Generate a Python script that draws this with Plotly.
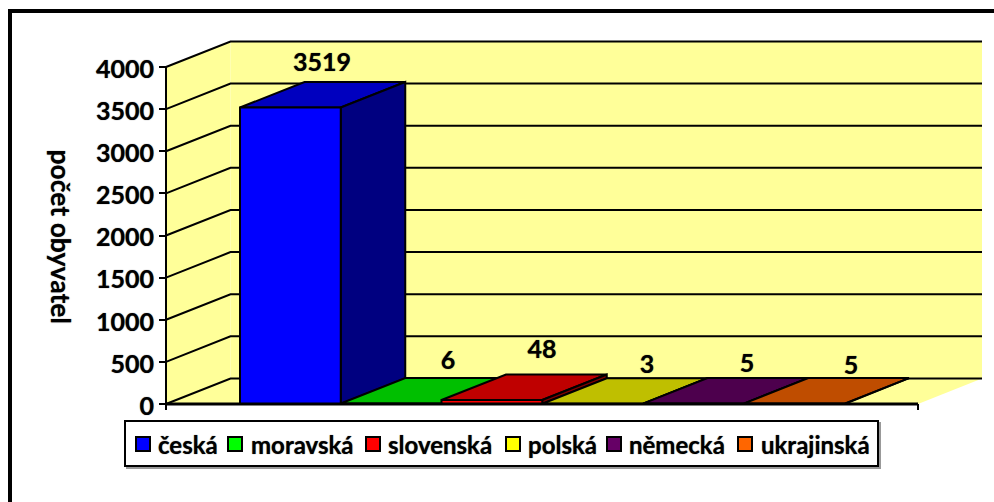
import plotly.graph_objects as go

CATEGORIES = ["česká", "moravská", "slovenská", "polská", "německá", "ukrajinská"]
VALUES = [3519, 6, 48, 3, 5, 5]
FRONT = ["#0000FF", "#00FF00", "#FF0000", "#FFFF00", "#660066", "#FF6600"]
TOP = ["#0000BF", "#00BF00", "#BF0000", "#BFBF00", "#4D004D", "#BF4D00"]
SIDE = ["#000080", "#008000", "#800000", "#808000", "#330033", "#803300"]
Y_TICKS = [0, 500, 1000, 1500, 2000, 2500, 3000, 3500, 4000]
LABEL_PX = [(322, 65), (448, 363), (542, 352), (647, 367), (747, 366), (851, 368)]
LEGEND_SWATCH_PX = [143, 235, 373, 513, 614, 745]
LEGEND_TEXT_PX = [156, 249, 386, 526, 627, 759]

W, H = 994, 502
X0_PX, CAT_PX = 240.0, 100.75
Y0_PX, UNIT_PX = 404.0, 337.0 / 4000
DX = 64.5 / CAT_PX
DY = 25.5 / UNIT_PX
AX_L = (166 - X0_PX) / CAT_PX
AX_R = (918 - X0_PX) / CAT_PX
FONT = "Lato"
LW = 2
HEAVY = "0 0 1px rgba(0,0,0,0.7)"


def ux(p):
    return (p - X0_PX) / CAT_PX


def uy(p):
    return (Y0_PX - p) / UNIT_PX


fig = go.Figure()


def poly(xs, ys, fill, line=True, name=None):
    fig.add_trace(go.Scatter(
        x=xs + xs[:1], y=ys + ys[:1], mode="lines", fill="toself", fillcolor=fill,
        line=dict(color="black" if line else fill, width=LW if line else 0),
        hoverinfo="skip", showlegend=False, name=name))


def line(xs, ys, width=LW):
    fig.add_trace(go.Scatter(x=xs, y=ys, mode="lines", line=dict(color="black", width=width),
                             hoverinfo="skip", showlegend=False))


ymax = Y_TICKS[-1]
wall_r = ux(982)
# walls and floor
poly([AX_L, AX_L + DX, AX_L + DX, AX_L], [0, DY, ymax + DY, ymax], "#FFFF99", False)
poly([AX_L + DX, wall_r, wall_r, AX_L + DX], [DY, DY, ymax + DY, ymax + DY], "#FFFF99", False)
poly([AX_L, AX_R, wall_r, AX_L + DX], [0, 0, DY, DY], "#FFFF99", False)
for t in Y_TICKS:
    line([AX_L, AX_L + DX, wall_r], [t, t + DY, t + DY])

# bars
for i, v in enumerate(VALUES):
    a, b = i, i + 1
    poly([a, b, b + DX, a + DX], [v, v, v + DY, v + DY], TOP[i])
    poly([b, b + DX, b + DX, b], [0, DY, v + DY, v], SIDE[i])
    poly([a, b, b, a], [0, 0, v, v], FRONT[i])

# axis lines
line([AX_L, AX_L], [0, ymax])
line([AX_L, AX_R], [0, 0], 3)
for xp in (AX_L, AX_R):
    line([xp, xp], [0, uy(410)])

# value labels
fig.add_trace(go.Scatter(
    x=[ux(p[0]) for p in LABEL_PX], y=[uy(p[1]) for p in LABEL_PX],
    mode="text", text=[str(v) for v in VALUES], textposition="middle center",
    textfont=dict(family=FONT, size=25, color="black", weight="bold", shadow=HEAVY),
    hoverinfo="skip", showlegend=False))

# legend swatches
for i, c in enumerate(CATEGORIES):
    fig.add_trace(go.Scatter(
        x=[ux(LEGEND_SWATCH_PX[i])], y=[uy(444)], mode="markers", name=c,
        marker=dict(symbol="square", size=14, color=FRONT[i], line=dict(color="black", width=2)),
        hoverinfo="skip", showlegend=False))

annotations = [dict(x=LEGEND_TEXT_PX[i] / W, y=1 - 444 / H, xref="paper", yref="paper",
                    xanchor="left", yanchor="middle", text=f"<b>{c}</b>", showarrow=False,
                    font=dict(family=FONT, size=24, color="black", shadow=HEAVY))
               for i, c in enumerate(CATEGORIES)]
annotations.append(dict(x=61 / W, y=1 - 236.5 / H, xref="paper", yref="paper", text="<b>počet obyvatel</b>",
                        xanchor="center", yanchor="middle",
                        textangle=90, showarrow=False, font=dict(family=FONT, size=26.5, color="black", shadow=HEAVY)))

shapes = [
    dict(type="rect", xref="paper", yref="paper", x0=127 / W, x1=880 / W, y0=1 - 468 / H, y1=1 - 423 / H,
         line=dict(color="#999999", width=2), fillcolor="#999999", layer="below"),
    dict(type="rect", xref="paper", yref="paper", x0=125 / W, x1=878 / W, y0=1 - 466 / H, y1=1 - 421 / H,
         line=dict(color="black", width=2), fillcolor="white", layer="below"),
    dict(type="line", xref="paper", yref="paper", x0=8 / W, x1=1, y0=1 - 11 / H, y1=1 - 11 / H,
         line=dict(color="black", width=4)),
    dict(type="line", xref="paper", yref="paper", x0=10 / W, x1=10 / W, y0=0, y1=1 - 9 / H,
         line=dict(color="black", width=4)),
]

fig.update_layout(
    width=W, height=H, margin=dict(l=0, r=0, t=0, b=0), autosize=False,
    plot_bgcolor="white", paper_bgcolor="white", showlegend=False,
    annotations=annotations, shapes=shapes,
    xaxis=dict(range=[ux(0), ux(W)], visible=False, fixedrange=True),
    yaxis=dict(range=[uy(H), uy(0)], anchor="free", position=166 / W, showgrid=False, zeroline=False,
               showline=False, tickmode="array", tickvals=Y_TICKS, ticks="outside", ticklen=7,
               tickwidth=2, tickcolor="black", fixedrange=True, ticklabelshift=2,
               tickfont=dict(family=FONT, size=25, color="black", weight="bold", shadow=HEAVY)),
)
fig.write_html("out.html", config={"displayModeBar": False},
               post_script="document.body.style.margin='0';document.body.style.overflow='hidden';")
